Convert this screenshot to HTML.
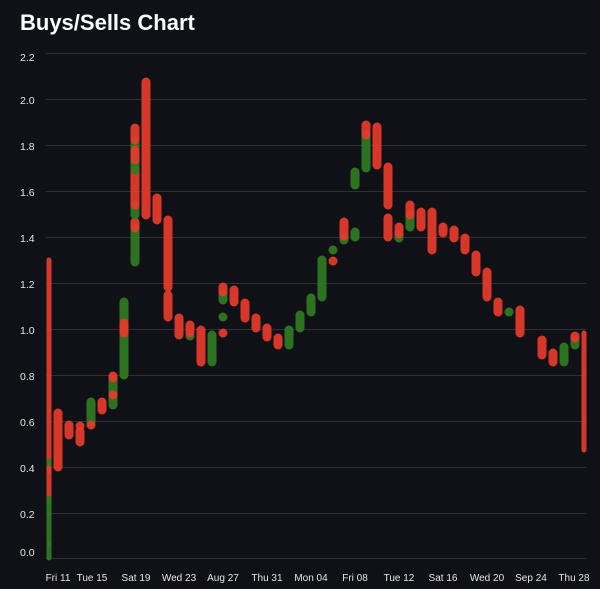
<!DOCTYPE html>
<html><head><style>
body{margin:0;background:#0f1116;}
svg{display:block}
.r{fill:#e53a2b;opacity:.93}
.g{fill:#2f7a22;opacity:.93}
</style></head><body>
<svg width="600" height="589" xmlns="http://www.w3.org/2000/svg">
<rect width="600" height="589" fill="#0f1116"/>
<text x="20" y="30" font-family="Liberation Sans, sans-serif" font-weight="bold" font-size="22" fill="#fafafa">Buys/Sells Chart</text>
<g stroke="#2e3038" stroke-width="1">
<line x1="46" x2="586" y1="53.5" y2="53.5"/><line x1="46" x2="586" y1="99.5" y2="99.5"/>
<line x1="46" x2="586" y1="145.5" y2="145.5"/><line x1="46" x2="586" y1="191.5" y2="191.5"/>
<line x1="46" x2="586" y1="237.5" y2="237.5"/><line x1="46" x2="586" y1="283.5" y2="283.5"/>
<line x1="46" x2="586" y1="329.5" y2="329.5"/><line x1="46" x2="586" y1="375.5" y2="375.5"/>
<line x1="46" x2="586" y1="421.5" y2="421.5"/><line x1="46" x2="586" y1="467.5" y2="467.5"/>
<line x1="46" x2="586" y1="513.5" y2="513.5"/><line x1="46" x2="586" y1="558.5" y2="558.5"/>
</g>
<g font-family="Liberation Sans, sans-serif" font-size="10.5" fill="#e6e6e6">
<text x="20" y="61">2.2</text><text x="20" y="104">2.0</text><text x="20" y="150">1.8</text>
<text x="20" y="196">1.6</text><text x="20" y="242">1.4</text><text x="20" y="288">1.2</text>
<text x="20" y="334">1.0</text><text x="20" y="380">0.8</text><text x="20" y="426">0.6</text>
<text x="20" y="472">0.4</text><text x="20" y="518">0.2</text><text x="20" y="556">0.0</text>
</g>
<g font-family="Liberation Sans, sans-serif" font-size="10" fill="#e6e6e6" text-anchor="middle">
<text x="58" y="581">Fri 11</text><text x="92" y="581">Tue 15</text><text x="136" y="581">Sat 19</text>
<text x="179" y="581">Wed 23</text><text x="223" y="581">Aug 27</text><text x="267" y="581">Thu 31</text>
<text x="311" y="581">Mon 04</text><text x="355" y="581">Fri 08</text><text x="399" y="581">Tue 12</text>
<text x="443" y="581">Sat 16</text><text x="487" y="581">Wed 20</text><text x="531" y="581">Sep 24</text>
<text x="574" y="581">Thu 28</text>
</g>
<g>
<rect class="r" x="46.5" y="257.5" width="5" height="210" rx="2.5"/>
<rect class="g" x="46.5" y="458.5" width="5" height="16" rx="2.5"/>
<rect class="r" x="46.5" y="465.5" width="5" height="39" rx="2.5"/>
<rect class="g" x="46.5" y="495.5" width="5" height="51" rx="2.5"/>
<rect class="g" x="46.5" y="541.5" width="5" height="19" rx="2.5"/>
<rect class="r" x="53.5" y="408.5" width="9" height="63" rx="4.5"/>
<rect class="r" x="64.5" y="420.5" width="9" height="19" rx="4.5"/>
<rect class="r" x="75.5" y="421.5" width="9" height="9" rx="4.5"/>
<rect class="r" x="75.5" y="426.5" width="9" height="20" rx="4.5"/>
<rect class="g" x="86.5" y="397.5" width="9" height="29" rx="4.5"/>
<rect class="r" x="86.5" y="420.5" width="9" height="9" rx="4.5"/>
<rect class="r" x="97.5" y="397.5" width="9" height="17" rx="4.5"/>
<rect class="g" x="108.5" y="375.5" width="9" height="34" rx="4.5"/>
<rect class="r" x="108.5" y="371.5" width="9" height="11" rx="4.5"/>
<rect class="r" x="108.5" y="390.5" width="9" height="9" rx="4.5"/>
<rect class="g" x="119.5" y="297.5" width="9" height="82" rx="4.5"/>
<rect class="r" x="119.5" y="318.5" width="9" height="19" rx="4.5"/>
<rect class="g" x="130.5" y="223.5" width="9" height="43" rx="4.5"/>
<rect class="r" x="130.5" y="217.5" width="9" height="15" rx="4.5"/>
<rect class="g" x="130.5" y="200.5" width="9" height="19" rx="4.5"/>
<rect class="r" x="130.5" y="165.5" width="9" height="44" rx="4.5"/>
<rect class="g" x="130.5" y="135.5" width="9" height="39" rx="4.5"/>
<rect class="r" x="130.5" y="145.5" width="9" height="19" rx="4.5"/>
<rect class="r" x="130.5" y="123.5" width="9" height="21" rx="4.5"/>
<rect class="r" x="141.5" y="77.5" width="9" height="142" rx="4.5"/>
<rect class="r" x="152.5" y="193.5" width="9" height="31" rx="4.5"/>
<rect class="r" x="163.5" y="215.5" width="9" height="76" rx="4.5"/>
<rect class="r" x="163.5" y="290.5" width="9" height="31" rx="4.5"/>
<rect class="r" x="174.5" y="313.5" width="9" height="26" rx="4.5"/>
<rect class="g" x="185.5" y="331.5" width="9" height="9" rx="4.5"/>
<rect class="r" x="185.5" y="320.5" width="9" height="17" rx="4.5"/>
<rect class="r" x="196.5" y="325.5" width="9" height="41" rx="4.5"/>
<rect class="g" x="207.5" y="330.5" width="9" height="36" rx="4.5"/>
<rect class="g" x="218.5" y="289.5" width="9" height="15" rx="4.5"/>
<rect class="r" x="218.5" y="282.5" width="9" height="14" rx="4.5"/>
<rect class="g" x="218.5" y="312.5" width="9" height="9" rx="4.5"/>
<rect class="r" x="218.5" y="328.5" width="9" height="9" rx="4.5"/>
<rect class="r" x="229.5" y="285.5" width="9" height="21" rx="4.5"/>
<rect class="r" x="240.5" y="298.5" width="9" height="24" rx="4.5"/>
<rect class="r" x="251.5" y="313.5" width="9" height="19" rx="4.5"/>
<rect class="r" x="262.5" y="323.5" width="9" height="18" rx="4.5"/>
<rect class="r" x="273.5" y="333.5" width="9" height="16" rx="4.5"/>
<rect class="g" x="284.5" y="325.5" width="9" height="24" rx="4.5"/>
<rect class="g" x="295.5" y="310.5" width="9" height="22" rx="4.5"/>
<rect class="g" x="306.5" y="293.5" width="9" height="23" rx="4.5"/>
<rect class="g" x="317.5" y="255.5" width="9" height="46" rx="4.5"/>
<rect class="g" x="328.5" y="245.5" width="9" height="9" rx="4.5"/>
<rect class="r" x="328.5" y="256.5" width="9" height="9" rx="4.5"/>
<rect class="g" x="339.5" y="233.5" width="9" height="11" rx="4.5"/>
<rect class="r" x="339.5" y="217.5" width="9" height="23" rx="4.5"/>
<rect class="g" x="350.5" y="167.5" width="9" height="22" rx="4.5"/>
<rect class="g" x="350.5" y="227.5" width="9" height="14" rx="4.5"/>
<rect class="g" x="361.5" y="130.5" width="9" height="42" rx="4.5"/>
<rect class="r" x="361.5" y="120.5" width="9" height="19" rx="4.5"/>
<rect class="r" x="372.5" y="122.5" width="9" height="47" rx="4.5"/>
<rect class="r" x="383.5" y="162.5" width="9" height="47" rx="4.5"/>
<rect class="r" x="383.5" y="213.5" width="9" height="28" rx="4.5"/>
<rect class="g" x="394.5" y="230.5" width="9" height="12" rx="4.5"/>
<rect class="r" x="394.5" y="222.5" width="9" height="16" rx="4.5"/>
<rect class="g" x="405.5" y="210.5" width="9" height="21" rx="4.5"/>
<rect class="r" x="405.5" y="200.5" width="9" height="19" rx="4.5"/>
<rect class="r" x="416.5" y="207.5" width="9" height="24" rx="4.5"/>
<rect class="r" x="427.5" y="207.5" width="9" height="47" rx="4.5"/>
<rect class="r" x="438.5" y="222.5" width="9" height="15" rx="4.5"/>
<rect class="r" x="449.5" y="225.5" width="9" height="17" rx="4.5"/>
<rect class="r" x="460.5" y="233.5" width="9" height="21" rx="4.5"/>
<rect class="r" x="471.5" y="250.5" width="9" height="26" rx="4.5"/>
<rect class="r" x="482.5" y="267.5" width="9" height="34" rx="4.5"/>
<rect class="r" x="493.5" y="297.5" width="9" height="19" rx="4.5"/>
<rect class="g" x="504.5" y="307.5" width="9" height="9" rx="4.5"/>
<rect class="r" x="515.5" y="305.5" width="9" height="32" rx="4.5"/>
<rect class="r" x="537.5" y="335.5" width="9" height="24" rx="4.5"/>
<rect class="r" x="548.5" y="348.5" width="9" height="18" rx="4.5"/>
<rect class="g" x="559.5" y="342.5" width="9" height="24" rx="4.5"/>
<rect class="g" x="570.5" y="335.5" width="9" height="14" rx="4.5"/>
<rect class="r" x="570.5" y="331.5" width="9" height="11" rx="4.5"/>
<rect class="r" x="581.5" y="330.5" width="5" height="122" rx="2.5"/>
</g>
</svg>
</body></html>
